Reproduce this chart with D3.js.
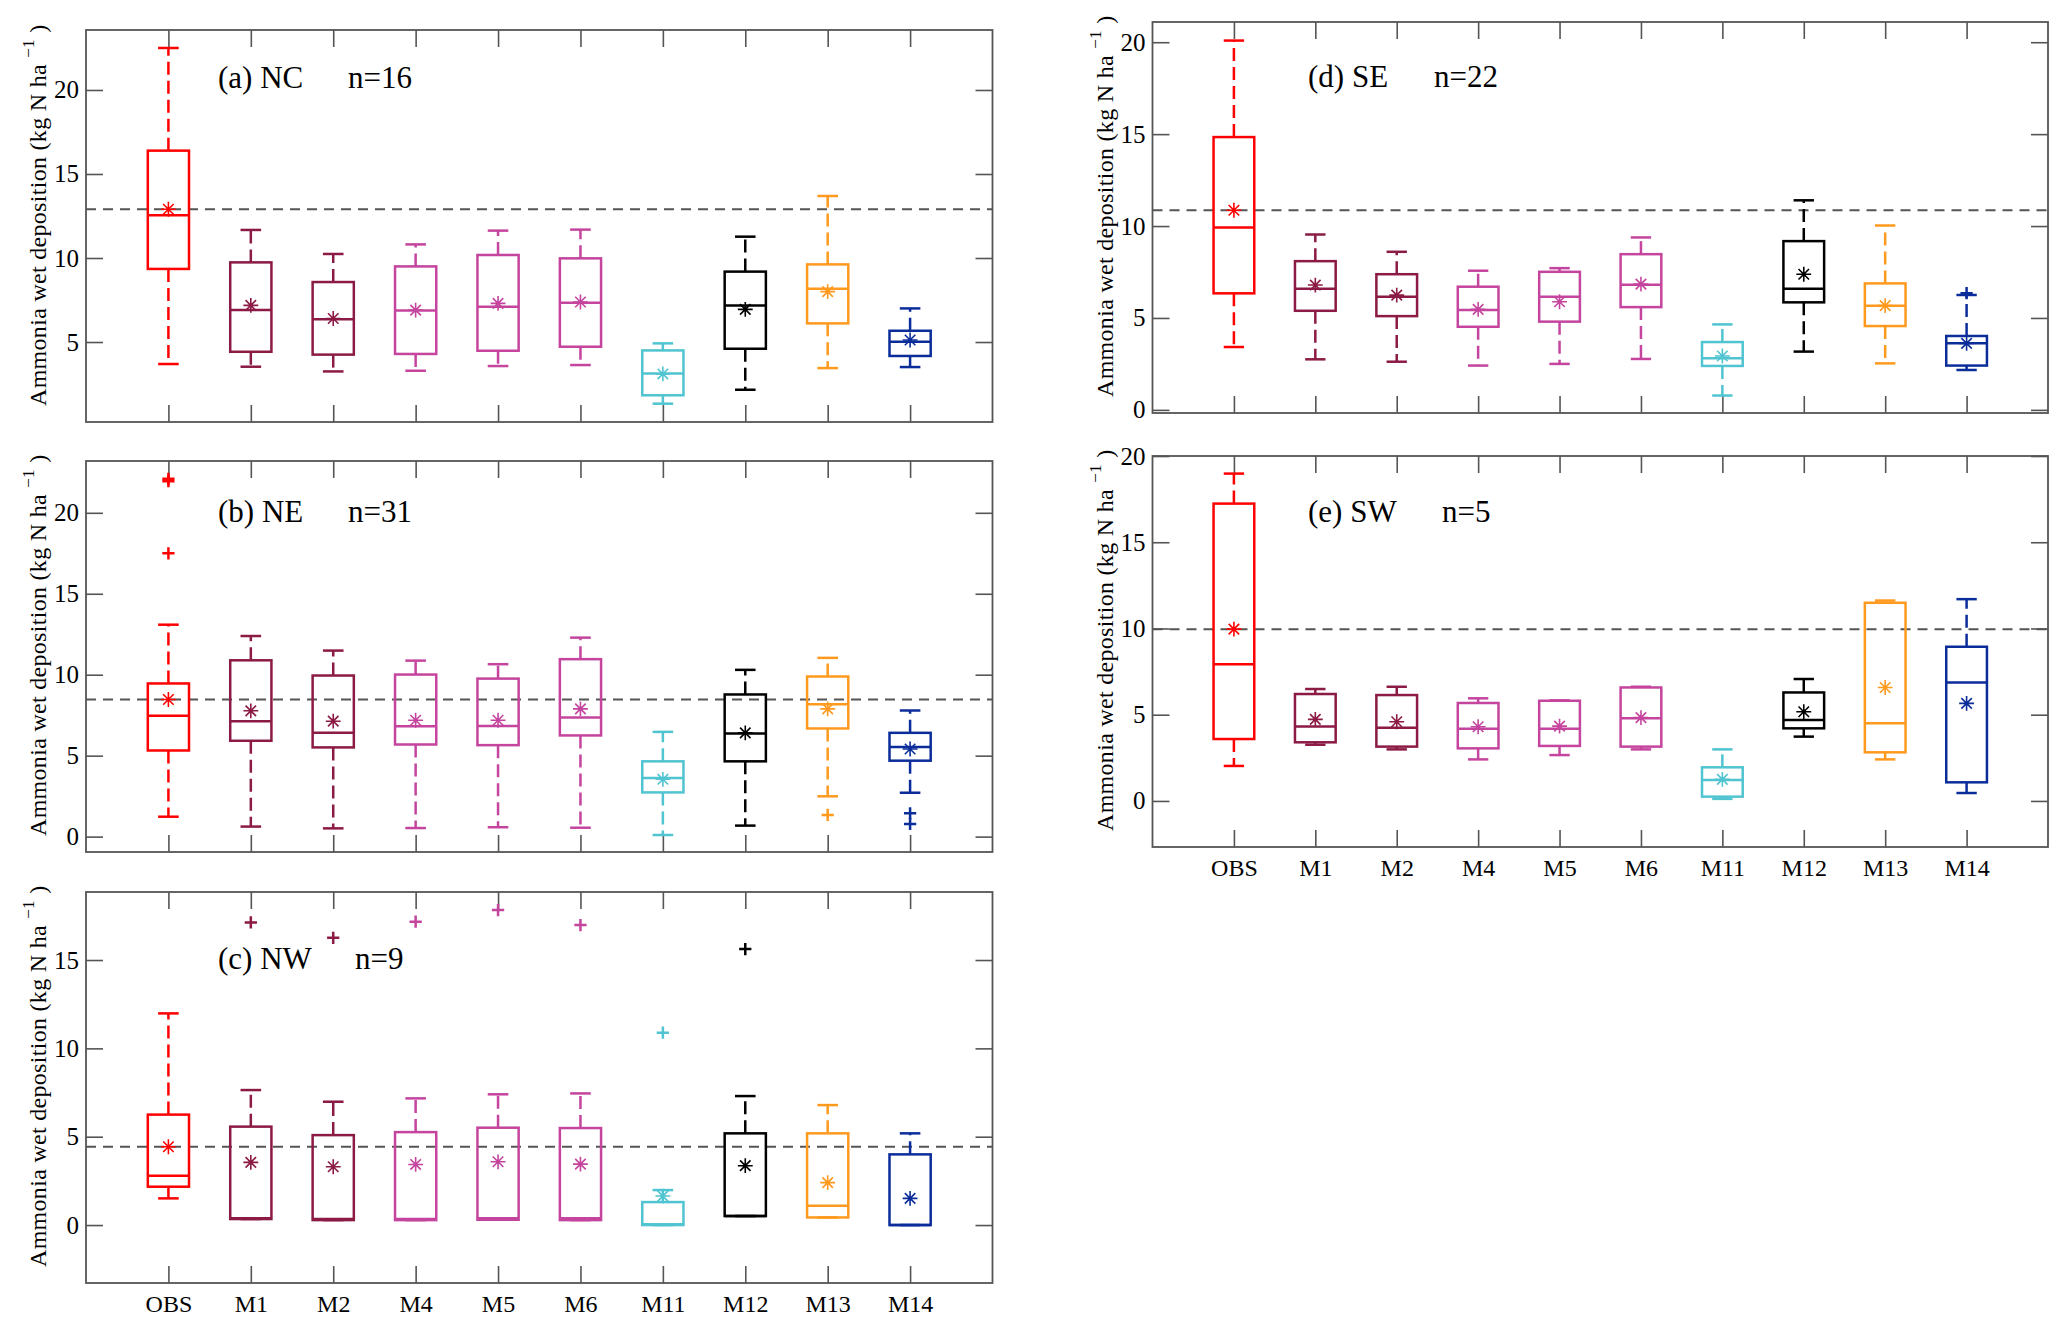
<!DOCTYPE html>
<html>
<head>
<meta charset="utf-8">
<script src="https://cdn.jsdelivr.net/npm/d3@7"></script>
<style>
  body { margin: 0; background: #fff; }
  svg { display: block; }
  text { font-family: "Liberation Serif", "Times New Roman", serif; }
</style>
</head>
<body>
<div id="chart"></div>
<script>
const categories = ["OBS", "M1", "M2", "M4", "M5", "M6", "M11", "M12", "M13", "M14"];
const catColors = ["#ff0000", "#8b1a44", "#8b1a44", "#c4449e", "#c4449e", "#c4449e",
                   "#50c4d0", "#000000", "#ff9a1f", "#0b2d9a"];

// one row per category: [lower whisker, q1, median, q3, upper whisker, mean]
const ncStats = [
    [3.69, 9.35, 12.54, 16.39, 22.5, 12.9],
    [3.53, 4.42, 6.9, 9.74, 11.67, 7.18],
    [3.25, 4.25, 6.35, 8.57, 10.24, 6.4],
    [3.29, 4.29, 6.87, 9.5, 10.81, 6.9],
    [3.57, 4.48, 7.1, 10.18, 11.63, 7.3],
    [3.63, 4.72, 7.34, 9.98, 11.69, 7.38],
    [1.33, 1.83, 3.13, 4.5, 4.92, 3.1],
    [2.16, 4.6, 7.18, 9.19, 11.27, 6.94],
    [3.45, 6.11, 8.17, 9.62, 13.69, 8.0],
    [3.51, 4.17, 5.02, 5.67, 7.0, 5.12]
];
const neStats = [
    [1.23, 5.32, 7.46, 9.46, 13.09, 8.47],
    [0.62, 5.92, 7.13, 10.89, 12.39, 7.77],
    [0.51, 5.51, 6.41, 9.95, 11.49, 7.13],
    [0.53, 5.69, 6.82, 10.01, 10.87, 7.19],
    [0.58, 5.65, 6.84, 9.76, 10.65, 7.19],
    [0.55, 6.25, 7.36, 10.96, 12.29, 7.89],
    [0.1, 2.73, 3.62, 4.65, 6.47, 3.54],
    [0.68, 4.65, 6.37, 8.78, 10.3, 6.41],
    [2.49, 6.68, 8.18, 9.89, 11.04, 7.89],
    [2.71, 4.69, 5.53, 6.41, 7.79, 5.41]
];
const nwStats = [
    [1.51, 2.17, 2.79, 6.25, 11.98, 4.43],
    [0.34, 0.34, 0.38, 5.57, 7.64, 3.55],
    [0.28, 0.28, 0.34, 5.09, 6.98, 3.3],
    [0.28, 0.28, 0.34, 5.26, 7.17, 3.43],
    [0.3, 0.3, 0.38, 5.51, 7.4, 3.58],
    [0.28, 0.28, 0.38, 5.49, 7.45, 3.45],
    [0.0, 0.0, 0.04, 1.3, 1.98, 1.64],
    [0.51, 0.51, 0.51, 5.19, 7.3, 3.36],
    [0.43, 0.43, 1.09, 5.19, 6.79, 2.4],
    [0.0, 0.0, 0.0, 4.0, 5.19, 1.51]
];
const seStats = [
    [3.42, 6.34, 9.92, 14.84, 20.09, 10.86],
    [2.75, 5.39, 6.59, 8.09, 9.54, 6.79],
    [2.62, 5.1, 6.15, 7.38, 8.6, 6.24],
    [2.41, 4.52, 5.43, 6.7, 7.57, 5.47],
    [2.5, 4.8, 6.15, 7.51, 7.71, 5.88],
    [2.77, 5.59, 6.81, 8.47, 9.38, 6.84],
    [0.78, 2.39, 2.81, 3.69, 4.65, 2.93],
    [3.17, 5.85, 6.59, 9.18, 11.4, 7.38],
    [2.53, 4.56, 5.67, 6.88, 10.03, 5.67],
    [2.17, 2.41, 3.62, 4.02, 6.25, 3.62]
];
const swStats = [
    [2.03, 3.59, 7.93, 17.24, 18.98, 9.96],
    [3.26, 3.4, 4.31, 6.2, 6.49, 4.73],
    [2.99, 3.15, 4.25, 6.14, 6.62, 4.59],
    [2.41, 3.05, 4.19, 5.68, 5.95, 4.3],
    [2.66, 3.19, 4.19, 5.81, 5.83, 4.34],
    [2.99, 3.15, 4.79, 6.58, 6.62, 4.83],
    [0.12, 0.25, 1.22, 1.95, 2.99, 1.25],
    [3.73, 4.21, 4.69, 6.29, 7.07, 5.17],
    [2.41, 2.82, 4.5, 11.49, 11.62, 6.58],
    [0.46, 1.08, 6.87, 8.94, 11.7, 5.66]
];

// outliers: [category, value]
const ncOutliers = [];
const neOutliers = [["OBS", 21.95], ["OBS", 22.1], ["OBS", 17.5], ["M13", 1.34], ["M14", 1.44], ["M14", 0.78]];
const nwOutliers = [["M1", 17.13], ["M2", 16.26], ["M4", 17.17], ["M5", 17.83], ["M6", 16.98], ["M11", 10.89], ["M12", 15.62]];
const seOutliers = [["M14", 6.35]];
const swOutliers = [];

const regionNames = ["(a) NC", "(b) NE", "(c) NW", "(d) SE", "(e) SW"];
const regionCounts = [16, 31, 9, 22, 5];

const ncTicks = [5, 10, 15, 20];
const neTicks = [0, 5, 10, 15, 20];
const nwTicks = [0, 5, 10, 15];
const seTicks = [0, 5, 10, 15, 20];
const swTicks = [0, 5, 10, 15, 20];

// panel layout (pixels + axis limits)
const panels = [
    {name: regionNames[0], n: regionCounts[0], stats: ncStats, outliers: ncOutliers, ticks: ncTicks,
     ylim: [0.24, 23.57], left: 86, right: 992.5, top: 30, bottom: 422, tx: 218, ty: 88, nx: 348, labels: false},
    {name: regionNames[1], n: regionCounts[1], stats: neStats, outliers: neOutliers, ticks: neTicks,
     ylim: [-0.95, 23.2], left: 86, right: 992.5, top: 461, bottom: 852, tx: 218, ty: 522, nx: 348, labels: false},
    {name: regionNames[2], n: regionCounts[2], stats: nwStats, outliers: nwOutliers, ticks: nwTicks,
     ylim: [-3.28, 18.85], left: 86, right: 992.5, top: 892, bottom: 1283, tx: 218, ty: 969, nx: 355, labels: true},
    {name: regionNames[3], n: regionCounts[3], stats: seStats, outliers: seOutliers, ticks: seTicks,
     ylim: [-0.17, 21.1], left: 1152.5, right: 2048, top: 22, bottom: 413, tx: 1308, ty: 87, nx: 1434, labels: false},
    {name: regionNames[4], n: regionCounts[4], stats: swStats, outliers: swOutliers, ticks: swTicks,
     ylim: [-2.67, 20], left: 1152.5, right: 2048, top: 456, bottom: 847, tx: 1308, ty: 522, nx: 1442, labels: true}
];

const width = 2067, height = 1329;
const tickLen = 17;
const axisColor = "#555";

// matlab style markers
const asterisk = {
    draw(ctx, size) {
        const r = Math.sqrt(size) / 2, d = r * Math.SQRT1_2;
        ctx.moveTo(0, -r); ctx.lineTo(0, r);
        ctx.moveTo(-r, 0); ctx.lineTo(r, 0);
        ctx.moveTo(-d, -d); ctx.lineTo(d, d);
        ctx.moveTo(-d, d); ctx.lineTo(d, -d);
    }
};
const plus = {
    draw(ctx, size) {
        const r = Math.sqrt(size) / 2;
        ctx.moveTo(0, -r); ctx.lineTo(0, r);
        ctx.moveTo(-r, 0); ctx.lineTo(r, 0);
    }
};

const svg = d3.select("#chart").append("svg")
    .attr("width", width)
    .attr("height", height);

svg.append("rect").attr("width", width).attr("height", height).attr("fill", "#fff");

panels.forEach(p => drawPanel(p));

function drawPanel(p) {
    const x = d3.scaleLinear().domain([0, categories.length + 1]).range([p.left, p.right]);
    const y = d3.scaleLinear().domain(p.ylim).range([p.bottom, p.top]);
    const step = x(1) - x(0);
    const boxW = step * 0.5;
    const capW = step * 0.25;

    const g = svg.append("g");

    // axes (ticks pointing inward, matlab style)
    const styleAxis = (a, size) => {
        a.attr("font-size", size).attr("font-family", null);
        a.select(".domain").remove();
        a.selectAll("line").attr("stroke", axisColor).attr("stroke-width", 1.6);
        a.selectAll("text").attr("fill", "#000");
    };
    g.append("g")
        .attr("transform", `translate(${p.left},0)`)
        .call(d3.axisLeft(y).tickValues(p.ticks).tickSizeInner(-tickLen).tickSizeOuter(0).tickPadding(7))
        .call(styleAxis, 25);
    g.append("g")
        .attr("transform", `translate(${p.right},0)`)
        .call(d3.axisRight(y).tickValues(p.ticks).tickSizeInner(-tickLen).tickSizeOuter(0).tickFormat(""))
        .call(styleAxis, 25);
    g.append("g")
        .attr("transform", `translate(0,${p.bottom})`)
        .call(d3.axisBottom(x).tickValues(d3.range(1, categories.length + 1))
            .tickSizeInner(-tickLen).tickSizeOuter(0).tickPadding(12)
            .tickFormat(d => p.labels ? categories[d - 1] : ""))
        .call(styleAxis, 24);
    g.append("g")
        .attr("transform", `translate(0,${p.top})`)
        .call(d3.axisTop(x).tickValues(d3.range(1, categories.length + 1))
            .tickSizeInner(-tickLen).tickSizeOuter(0).tickFormat(""))
        .call(styleAxis, 24);

    // OBS mean reference line
    g.append("line")
        .attr("x1", p.left).attr("x2", p.right)
        .attr("y1", y(p.stats[0][5])).attr("y2", y(p.stats[0][5]))
        .attr("stroke", axisColor)
        .attr("stroke-width", 2)
        .attr("stroke-dasharray", "10,7");

    const boxes = g.selectAll("g.box")
        .data(p.stats)
        .join("g")
        .attr("class", "box")
        .attr("stroke", (d, i) => catColors[i])
        .attr("stroke-width", 2.5)
        .attr("fill", "none");

    // whiskers
    boxes.append("line")
        .attr("x1", (d, i) => x(i + 1)).attr("x2", (d, i) => x(i + 1))
        .attr("y1", d => y(d[3])).attr("y2", d => y(d[4]))
        .attr("stroke-dasharray", "13,6");
    boxes.append("line")
        .attr("x1", (d, i) => x(i + 1)).attr("x2", (d, i) => x(i + 1))
        .attr("y1", d => y(d[1])).attr("y2", d => y(d[0]))
        .attr("stroke-dasharray", "13,6");
    // caps
    boxes.append("line")
        .attr("x1", (d, i) => x(i + 1) - capW / 2).attr("x2", (d, i) => x(i + 1) + capW / 2)
        .attr("y1", d => y(d[4])).attr("y2", d => y(d[4]));
    boxes.append("line")
        .attr("x1", (d, i) => x(i + 1) - capW / 2).attr("x2", (d, i) => x(i + 1) + capW / 2)
        .attr("y1", d => y(d[0])).attr("y2", d => y(d[0]));
    // box
    boxes.append("rect")
        .attr("x", (d, i) => x(i + 1) - boxW / 2)
        .attr("width", boxW)
        .attr("y", d => y(d[3]))
        .attr("height", d => Math.max(0.5, y(d[1]) - y(d[3])));
    // median
    boxes.append("line")
        .attr("x1", (d, i) => x(i + 1) - boxW / 2).attr("x2", (d, i) => x(i + 1) + boxW / 2)
        .attr("y1", d => y(d[2])).attr("y2", d => y(d[2]));
    // mean
    boxes.append("path")
        .attr("transform", (d, i) => `translate(${x(i + 1)},${y(d[5])})`)
        .attr("stroke-width", 1.6)
        .attr("d", d3.symbol().type(asterisk).size(220)());

    // outliers
    g.selectAll("path.outlier")
        .data(p.outliers)
        .join("path")
        .attr("class", "outlier")
        .attr("transform", d => `translate(${x(categories.indexOf(d[0]) + 1)},${y(d[1])})`)
        .attr("fill", "none")
        .attr("stroke", d => catColors[categories.indexOf(d[0])])
        .attr("stroke-width", 2.5)
        .attr("d", d3.symbol().type(plus).size(150)());

    // frame
    g.append("rect")
        .attr("x", p.left).attr("y", p.top)
        .attr("width", p.right - p.left).attr("height", p.bottom - p.top)
        .attr("fill", "none")
        .attr("stroke", axisColor)
        .attr("stroke-width", 1.8);

    // panel title
    g.append("text")
        .attr("x", p.tx).attr("y", p.ty)
        .attr("font-size", 31)
        .text(p.name);
    g.append("text")
        .attr("x", p.nx).attr("y", p.ty)
        .attr("font-size", 31)
        .text("n=" + p.n);

    // y label
    const lx = p.left - 40, ly = p.bottom - 16;
    const label = g.append("text")
        .attr("transform", `translate(${lx},${ly}) rotate(-90)`)
        .attr("font-size", 24)
        .attr("letter-spacing", 0.3);
    label.append("tspan").text("Ammonia wet deposition (kg N ha ");
    label.append("tspan").attr("font-size", 17).attr("dy", -12).text("\u22121");
    label.append("tspan").attr("dy", 12).text(" )");
}
</script>
</body>
</html>
